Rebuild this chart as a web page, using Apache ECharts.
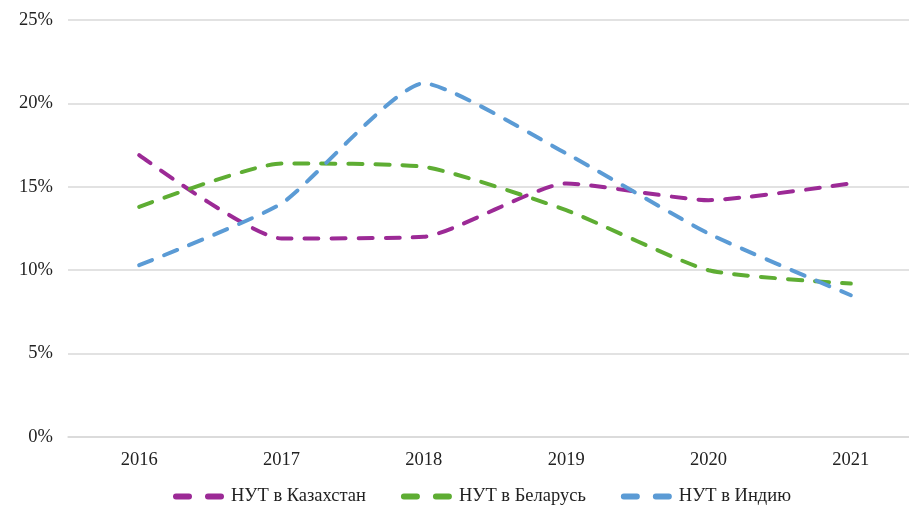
<!DOCTYPE html>
<html>
<head>
<meta charset="utf-8">
<script src="https://cdn.jsdelivr.net/npm/echarts@6/dist/echarts.min.js"></script>
<style>
  html, body { margin: 0; padding: 0; background: #fff; }
  #main { width: 909px; height: 508px; }
</style>
</head>
<body>
<div id="main"></div>
<script>
// данные (%)
var years = ['2016', '2017', '2018', '2019', '2020', '2021'];
var kazakhstan = [16.9, 11.9, 12.0, 15.2, 14.2, 15.2];
var belarus = [13.8, 16.4, 16.2, 13.6, 10.0, 9.2];
var india = [10.3, 14.0, 21.2, 17.0, 12.2, 8.5];
var seriesNames = ['НУТ в Казахстан', 'НУТ в Беларусь', 'НУТ в Индию'];
var colors = ['#9c2a96', '#5ead33', '#5b9bd5'];

var myChart = echarts.init(document.getElementById('main'));

var font = 'Liberation Serif';
// две короткие черточки, как в легенде Excel
var dashIcon = 'path://M3,0 h13 a3,3 0 0 1 0,6 h-13 a3,3 0 0 1 0,-6z M35,0 h13 a3,3 0 0 1 0,6 h-13 a3,3 0 0 1 0,-6z';

function makeSeries(name, data, color) {
  return {
    name: name,
    type: 'line',
    data: data,
    smooth: 0.18,
    symbol: 'none',
    color: color,
    lineStyle: {
      width: 4,
      color: color,
      type: [14, 13],
      cap: 'round'
    }
  };
}

var option = {
  backgroundColor: '#fff',
  animation: false,
  grid: {
    left: 68,
    top: 20,
    width: 854,
    height: 417,
    outerBoundsMode: 'none'
  },
  legend: {
    top: 482,
    left: 168,
    icon: dashIcon,
    itemWidth: 51,
    itemHeight: 6,
    itemGap: 35,
    textStyle: {
      fontFamily: font,
      fontSize: 18.5,
      color: '#222',
      padding: [0, 0, 0, 2]
    },
    data: seriesNames
  },
  xAxis: {
    type: 'category',
    data: years,
    boundaryGap: true,
    axisLine: { lineStyle: { color: '#d9d9d9', width: 1.5 } },
    axisTick: { show: false },
    axisLabel: {
      margin: 14,
      fontFamily: font,
      fontSize: 18.5,
      color: '#222'
    }
  },
  yAxis: {
    type: 'value',
    min: 0,
    max: 25,
    interval: 5,
    axisLine: { show: false },
    axisTick: { show: false },
    splitLine: { lineStyle: { color: '#d9d9d9', width: 1.5 } },
    axisLabel: {
      margin: 15,
      fontFamily: font,
      fontSize: 18.5,
      color: '#222',
      formatter: '{value}%'
    }
  },
  series: [
    makeSeries(seriesNames[0], kazakhstan, colors[0]),
    makeSeries(seriesNames[1], belarus, colors[1]),
    makeSeries(seriesNames[2], india, colors[2])
  ]
};

myChart.setOption(option);
</script>
</body>
</html>
